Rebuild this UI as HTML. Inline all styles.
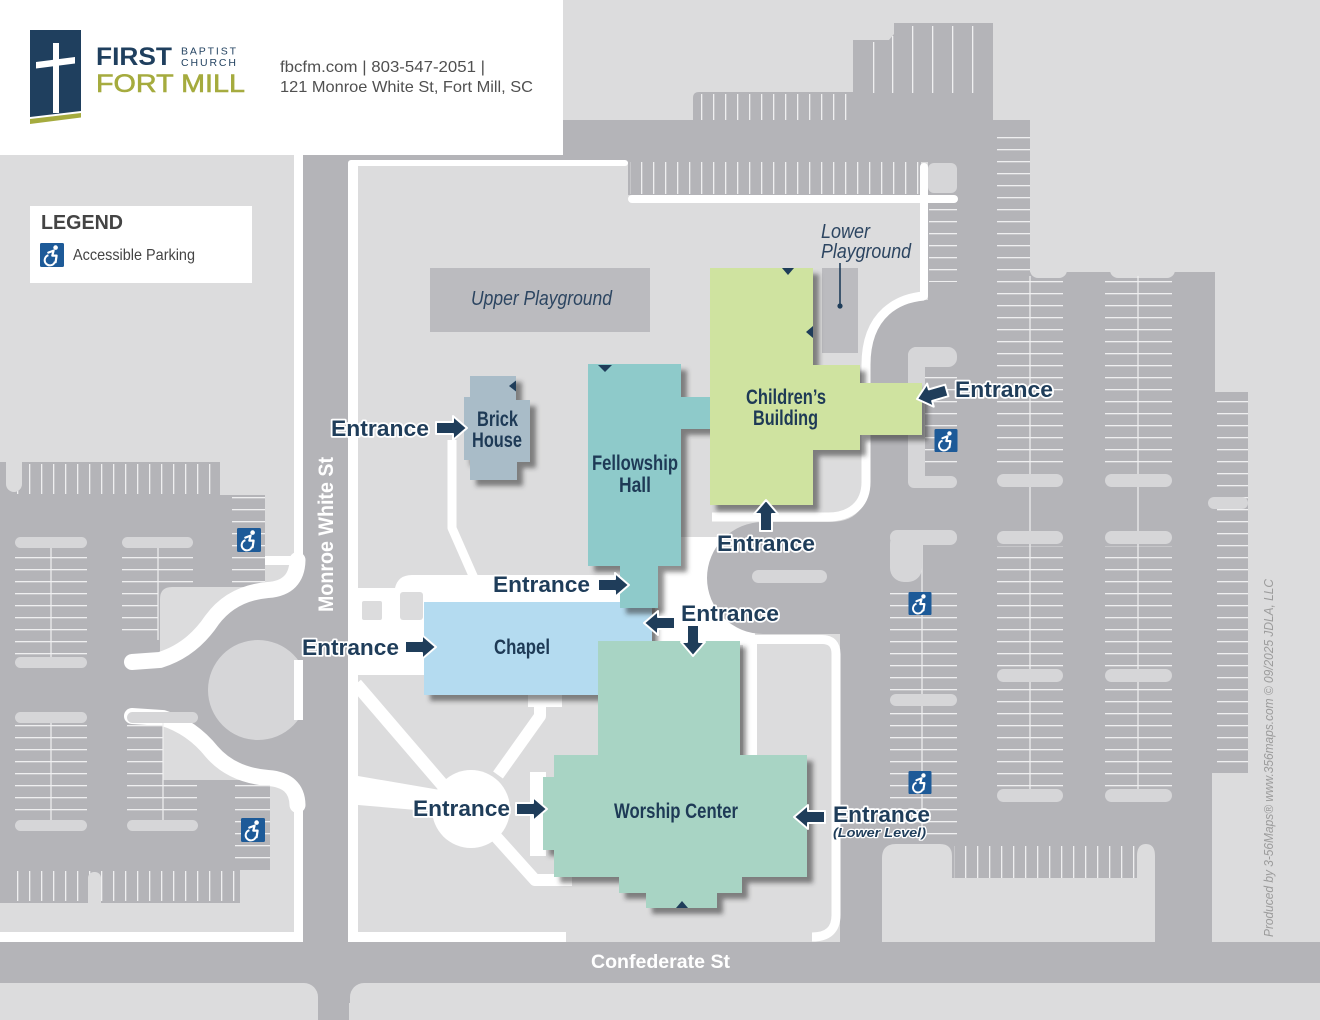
<!DOCTYPE html>
<html><head><meta charset="utf-8">
<style>
html,body{margin:0;padding:0;background:#dcdcdd;}
svg{display:block}
.ent{font-family:"Liberation Sans",Arial,sans-serif;font-weight:bold;font-size:22.5px;fill:#1f3d5a;stroke:#ffffff;stroke-width:3.5px;paint-order:stroke;stroke-linejoin:round}
.bl{font-family:"Liberation Sans",Arial,sans-serif;font-weight:bold;font-size:21px;fill:#1e3a56}
.it{font-family:"Liberation Sans",Arial,sans-serif;font-style:italic;font-size:20px;fill:#2c4561}
.rd{font-family:"Liberation Sans",Arial,sans-serif;font-weight:bold;fill:#ffffff}
</style></head><body>
<svg width="1320" height="1020" viewBox="0 0 1320 1020" xmlns="http://www.w3.org/2000/svg">
<defs>
<pattern id="vs" width="12" height="20" patternUnits="userSpaceOnUse"><rect x="5" y="0" width="1.3" height="20" fill="#efeff0"/></pattern>
<pattern id="hs" width="20" height="12" patternUnits="userSpaceOnUse"><rect x="0" y="5" width="20" height="1.3" fill="#efeff0"/></pattern>
<filter id="sh" x="-10%" y="-10%" width="130%" height="130%"><feDropShadow dx="6" dy="6" stdDeviation="2.5" flood-color="#333" flood-opacity="0.55"/></filter>
<symbol id="ada" viewBox="0 0 24 24">
<rect width="24" height="24" rx="1.5" fill="#1d5a98"/>
<circle cx="15.6" cy="4.6" r="2.3" fill="#fff"/>
<path d="M8.3,9.6 L13.6,7.6 L12.3,12.6 L16.6,12.6 L15.6,19.2" fill="none" stroke="#fff" stroke-width="2.2" stroke-linejoin="round" stroke-linecap="round"/>
<path d="M8.4,12.2 A5.2,5.2 0 1 0 14.9,18.6" fill="none" stroke="#fff" stroke-width="2"/>
</symbol>
<path id="arr" d="M-31,-6 H-14 V-12 L0,0 L-14,12 V6 H-31 Z"/>
</defs>

<!-- base lawn -->
<rect x="0" y="0" width="1320" height="1020" fill="#dcdcdd"/>

<!-- white underlay near loop -->
<rect x="655" y="537" width="100" height="108" fill="#ffffff"/>

<!-- asphalt -->
<g fill="#b4b4b8">
<rect x="303" y="150" width="46" height="870"/>
<rect x="0" y="942" width="1320" height="41"/>
<rect x="349" y="983" width="20" height="20"/>
<rect x="303" y="150" width="260" height="13"/>
<rect x="563" y="120" width="467" height="42"/>
<path d="M693,122 V98 Q693,92 699,92 H853 V40 H889 L894,34 V23 H993 V122 Z"/>
<rect x="628" y="160" width="293" height="35"/>
<rect x="928" y="120" width="102" height="160"/>
<path d="M928,272 H1215 V392 H1248 V773 H1212 V942 H840 V634 H763 A56,56 0 0 1 763,522 H830 Q866,522 866,486 V365 Q866,300 928,300 Z"/>
<path d="M0,462 H220 V495 H265 V587 H172 Q160,587 160,599 V662 Q192,650 212,620 Q232,593 268,590 Q297,588 297,565 L303,565 V800 L297,800 Q297,780 268,778 Q232,775 212,752 Q192,727 163,718 V780 H270 V870 H240 V903 H0 Z"/>
</g>

<!-- bottom lawn blocks below Confederate -->
<rect x="-20" y="983" width="338" height="60" rx="14" fill="#dcdcdd"/>
<rect x="350" y="983" width="990" height="60" rx="14" fill="#dcdcdd"/>

<!-- left lot round island -->
<circle cx="258" cy="690" r="50" fill="#d6d6d8"/>
<rect x="303" y="630" width="46" height="120" fill="#b4b4b8"/>
<rect x="294" y="660" width="9" height="60" fill="#ffffff"/>

<!-- left side white sidewalks -->
<g fill="#ffffff">
<rect x="294" y="150" width="9" height="420"/>
<rect x="294" y="795" width="9" height="147"/>
<rect x="0" y="932" width="303" height="10"/>
<rect x="265" y="556" width="32" height="9"/>
</g>
<g fill="none" stroke="#ffffff" stroke-width="16" stroke-linecap="round">
<path d="M297.5,560 Q297,588 268,590 Q232,593 212,620 Q192,650 160,660 L132,662"/>
<path d="M297.5,805 Q297,780 268,778 Q232,775 212,752 Q192,727 163,718 L132,716"/>
</g>

<!-- left lot markings -->
<rect x="8" y="464" width="210" height="30" fill="url(#vs)"/>
<rect x="6" y="452" width="16" height="40" rx="8" fill="#dcdcdd"/>
<rect x="232" y="497" width="33" height="89" fill="url(#hs)"/>
<rect x="15" y="550" width="72" height="106" fill="url(#hs)"/>
<rect x="122" y="550" width="71" height="38" fill="url(#hs)"/>
<rect x="122" y="588" width="36" height="52" fill="url(#hs)"/>
<rect x="15" y="724" width="72" height="95" fill="url(#hs)"/>
<rect x="127" y="724" width="36" height="56" fill="url(#hs)"/>
<rect x="127" y="780" width="70" height="39" fill="url(#hs)"/>
<rect x="235" y="785" width="35" height="84" fill="url(#hs)"/>
<rect x="8" y="871" width="230" height="30" fill="url(#vs)"/>
<rect x="88" y="872" width="13" height="40" rx="6" fill="#dcdcdd"/>
<g fill="#efeff0">
<rect x="50.4" y="545" width="1.2" height="115"/>
<rect x="157.4" y="545" width="1.2" height="95"/>
<rect x="50.4" y="720" width="1.2" height="105"/>
<rect x="162.4" y="720" width="1.2" height="105"/>
</g>
<g fill="#d6d6d8">
<rect x="15" y="537" width="72" height="11" rx="5.5"/>
<rect x="122" y="537" width="71" height="11" rx="5.5"/>
<rect x="15" y="657" width="72" height="11" rx="5.5"/>
<rect x="15" y="712" width="72" height="11" rx="5.5"/>
<rect x="127" y="712" width="71" height="11" rx="5.5"/>
<rect x="15" y="820" width="72" height="11" rx="5.5"/>
<rect x="127" y="820" width="71" height="11" rx="5.5"/>
</g>

<!-- top lots markings -->
<g fill="#efeff0">
<rect x="873" y="42" width="1.3" height="51"/>
<rect x="892" y="36" width="1.3" height="57"/>
<rect x="912" y="26" width="1.3" height="67"/>
<rect x="932" y="26" width="1.3" height="67"/>
<rect x="952" y="26" width="1.3" height="67"/>
<rect x="972" y="26" width="1.3" height="67"/>
</g>
<rect x="697" y="94" width="155" height="26" fill="url(#vs)"/>
<rect x="630" y="162" width="290" height="32" fill="url(#vs)"/>
<rect x="929" y="205" width="28" height="77" fill="url(#hs)"/>
<rect x="997" y="130" width="33" height="142" fill="url(#hs)"/>
<rect x="928" y="163" width="29" height="30" rx="6" fill="#d6d6d8"/>

<!-- campus white sidewalks -->
<g fill="#ffffff">
<rect x="348" y="163" width="10" height="779"/>
<rect x="348" y="160" width="280" height="6" rx="3"/>
<rect x="348" y="932" width="218" height="10"/>
<rect x="628" y="195" width="330" height="8" rx="4"/>
<rect x="920" y="163" width="8" height="137" rx="4"/>
<rect x="743" y="640" width="14" height="115"/>
<path d="M348,588 H395 Q398,575 412,575 H622 V604 H424 V675 H348 Z"/>
<circle cx="471" cy="809" r="39"/>
<polygon points="358,776 440,790 440,812 358,805"/>
<rect x="528" y="695" width="34" height="12"/>
<rect x="530" y="772" width="16" height="84"/>
</g>
<rect x="362" y="601" width="20" height="19" rx="2" fill="#dcdcdd"/>
<rect x="400" y="592" width="23" height="28" rx="3" fill="#dcdcdd"/>
<g fill="none" stroke="#ffffff" stroke-linejoin="round">
<path d="M924,296 C900,298 866,312 866,365 V482 C866,505 850,517 828,517 H712" stroke-width="9"/>
<path d="M660,639.5 H822 Q836,639.5 836,654 V915 Q836,937 812,937" stroke-width="9"/>
<polyline points="452,440 452,528 474,578" stroke-width="9"/>
<line x1="356" y1="684" x2="447" y2="790" stroke-width="13"/>
<polyline points="498,775 540,716 540,700" stroke-width="12"/>
<polyline points="490,830 535,880 572,880" stroke-width="12"/>
</g>

<!-- big lot markings -->
<g fill="#dcdcdd">
<rect x="1030" y="262" width="37" height="16" rx="8"/>
<rect x="1110" y="262" width="65" height="16" rx="8"/>
</g>
<rect x="997" y="280" width="66" height="192" fill="url(#hs)"/>
<rect x="997" y="546" width="66" height="121" fill="url(#hs)"/>
<rect x="997" y="684" width="66" height="104" fill="url(#hs)"/>
<rect x="1105" y="280" width="67" height="192" fill="url(#hs)"/>
<rect x="1105" y="546" width="67" height="121" fill="url(#hs)"/>
<rect x="1105" y="684" width="67" height="104" fill="url(#hs)"/>
<rect x="1217" y="396" width="31" height="374" fill="url(#hs)"/>
<rect x="925" y="369" width="32" height="104" fill="url(#hs)"/>
<rect x="890" y="586" width="67" height="106" fill="url(#hs)"/>
<rect x="890" y="708" width="67" height="132" fill="url(#hs)"/>
<rect x="954" y="846" width="183" height="32" fill="url(#vs)"/>
<g fill="#efeff0">
<rect x="1029.4" y="276" width="1.2" height="515"/>
<rect x="1137.4" y="276" width="1.2" height="515"/>
<rect x="921.4" y="545" width="1.2" height="295"/>
</g>
<g fill="#d6d6d8">
<rect x="997" y="474" width="66" height="13" rx="6.5"/>
<rect x="997" y="531" width="66" height="13" rx="6.5"/>
<rect x="997" y="669" width="66" height="13" rx="6.5"/>
<rect x="997" y="789" width="66" height="13" rx="6.5"/>
<rect x="1105" y="474" width="67" height="13" rx="6.5"/>
<rect x="1105" y="531" width="67" height="13" rx="6.5"/>
<rect x="1105" y="669" width="67" height="13" rx="6.5"/>
<rect x="1105" y="789" width="67" height="13" rx="6.5"/>
<rect x="1208" y="497" width="40" height="12" rx="6"/>
<rect x="908" y="347" width="49" height="20" rx="9"/>
<rect x="908" y="347" width="17" height="141" rx="8"/>
<rect x="908" y="476" width="49" height="12" rx="6"/>
<rect x="890" y="530" width="67" height="15" rx="7"/>
<rect x="890" y="530" width="32" height="52" rx="14"/>
<rect x="890" y="694" width="67" height="12" rx="6"/>
<rect x="752" y="570" width="75" height="13" rx="6.5"/>
</g>
<path d="M882,942 V858 Q882,844 896,844 H940 Q952,844 952,856 V878 H1137 V856 Q1137,844 1146,844 Q1155,844 1155,856 V942 Z" fill="#dcdcdd"/>
<rect x="1212" y="773" width="130" height="169" rx="12" fill="#dcdcdd"/>

<!-- playgrounds -->
<rect x="430" y="268" width="220" height="64" fill="#bbbbbf"/>
<rect x="822" y="268" width="36" height="85" fill="#bbbbbf"/>

<!-- buildings -->
<g filter="url(#sh)">
<rect x="424" y="602" width="228" height="93" fill="#b4dbf0"/>
</g>
<g filter="url(#sh)">
<path d="M598,641 H740 V755 H807 V877 H742 V893 H717 V908 H646 V893 H619 V877 H554 V850 H543 V777 H554 V755 H598 Z" fill="#a8d4c4"/>
</g>
<g filter="url(#sh)">
<path d="M470,376 H516 V400 H530 V462 H517 V480 H470 V460 H464 V397 H470 Z" fill="#a9bcc8"/>
</g>
<g filter="url(#sh)" fill="#8ecaca">
<path d="M588,364 H681 V566 H658 V608 H620 V566 H588 Z"/>
<rect x="680" y="397" width="32" height="32"/>
</g>
<g filter="url(#sh)">
<path d="M710,268 H813 V365 H860 V383 H922 V435 H860 V450 H813 V505 H710 Z" fill="#cfe3a0"/>
</g>
<g fill="#1f3d5a">
<path d="M509,386 L516,380.5 L516,391.5 Z"/>
<path d="M598,365 H612 L605,372 Z"/>
<path d="M782,268 H794 L788,275 Z"/>
<path d="M806,332 L813,326 L813,338 Z"/>
<path d="M676,908 H688 L682,901 Z"/>
</g>

<!-- building labels -->
<text class="bl" x="477" y="426" textLength="41" lengthAdjust="spacingAndGlyphs">Brick</text>
<text class="bl" x="472" y="447" textLength="50" lengthAdjust="spacingAndGlyphs">House</text>
<text class="bl" x="592" y="470" textLength="86" lengthAdjust="spacingAndGlyphs">Fellowship</text>
<text class="bl" x="619" y="492" textLength="32" lengthAdjust="spacingAndGlyphs">Hall</text>
<text class="bl" x="746" y="404" textLength="80" lengthAdjust="spacingAndGlyphs">Children’s</text>
<text class="bl" x="753" y="425" textLength="65" lengthAdjust="spacingAndGlyphs">Building</text>
<text class="bl" x="494" y="654" textLength="56" lengthAdjust="spacingAndGlyphs">Chapel</text>
<text class="bl" x="614" y="818" textLength="124" lengthAdjust="spacingAndGlyphs">Worship Center</text>

<text class="it" x="471" y="305" textLength="141" lengthAdjust="spacingAndGlyphs">Upper Playground</text>
<text class="it" x="821" y="238" textLength="49" lengthAdjust="spacingAndGlyphs">Lower</text>
<text class="it" x="821" y="258" textLength="90" lengthAdjust="spacingAndGlyphs">Playground</text>
<line x1="840" y1="263" x2="840" y2="305" stroke="#1f3d5a" stroke-width="1.6"/>
<circle cx="840" cy="306" r="2.6" fill="#1f3d5a"/>

<!-- road labels -->
<text class="rd" font-size="21" transform="translate(333,612) rotate(-90)" textLength="155" lengthAdjust="spacingAndGlyphs">Monroe White St</text>
<text class="rd" font-size="19" x="591" y="968" textLength="139" lengthAdjust="spacingAndGlyphs">Confederate St</text>
<text font-family="Liberation Sans, Arial, sans-serif" font-style="italic" font-size="12.5" fill="#9c9c9c" transform="translate(1273,937) rotate(-90)" textLength="358" lengthAdjust="spacingAndGlyphs">Produced by 3-56Maps®   www.356maps.com   © 09/2025 JDLA, LLC</text>

<!-- ADA icons -->
<use href="#ada" x="237" y="528" width="24" height="24"/>
<use href="#ada" x="241" y="818" width="24" height="24"/>
<use href="#ada" x="934" y="429" width="24" height="23"/>
<use href="#ada" x="908" y="592" width="24" height="23"/>
<use href="#ada" x="908" y="771" width="24" height="23"/>

<!-- entrance arrows -->
<g fill="#1f3d5a" stroke="#ffffff" stroke-width="2" stroke-linejoin="round">
<use href="#arr" transform="translate(467,428)"/>
<use href="#arr" transform="translate(917,399) rotate(164)"/>
<use href="#arr" transform="translate(766,500) rotate(-90)"/>
<use href="#arr" transform="translate(629,585)"/>
<use href="#arr" transform="translate(644,623) rotate(180)"/>
<use href="#arr" transform="translate(693,656) rotate(90)"/>
<use href="#arr" transform="translate(436,647)"/>
<use href="#arr" transform="translate(547,809)"/>
<use href="#arr" transform="translate(794,817) rotate(180)"/>
</g>

<!-- entrance labels -->
<text class="ent" x="331" y="436" textLength="98" lengthAdjust="spacingAndGlyphs">Entrance</text>
<text class="ent" x="955" y="397" textLength="98" lengthAdjust="spacingAndGlyphs">Entrance</text>
<text class="ent" x="717" y="551" textLength="98" lengthAdjust="spacingAndGlyphs">Entrance</text>
<text class="ent" x="493" y="592" textLength="97" lengthAdjust="spacingAndGlyphs">Entrance</text>
<text class="ent" x="681" y="621" textLength="98" lengthAdjust="spacingAndGlyphs">Entrance</text>
<text class="ent" x="302" y="655" textLength="97" lengthAdjust="spacingAndGlyphs">Entrance</text>
<text class="ent" x="413" y="816" textLength="97" lengthAdjust="spacingAndGlyphs">Entrance</text>
<text class="ent" x="833" y="822" textLength="97" lengthAdjust="spacingAndGlyphs">Entrance</text>
<text class="ent" style="font-size:13px;font-style:italic;stroke-width:2.5px" x="833" y="837" textLength="93" lengthAdjust="spacingAndGlyphs">(Lower Level)</text>

<!-- header -->
<rect x="0" y="0" width="563" height="155" fill="#ffffff"/>
<polygon points="30,30 81,30 81,111 30,117" fill="#1f3f5e"/>
<polygon points="30,119 81,113 81,117.5 30,124" fill="#a5ab3e"/>
<rect x="53" y="43" width="6" height="70" fill="#ffffff"/>
<polygon points="36,62 75,57 75,63.5 36,68.5" fill="#ffffff"/>
<text x="96" y="65" font-family="Liberation Sans, Arial, sans-serif" font-weight="bold" font-size="25" fill="#1f3f5e" textLength="76" lengthAdjust="spacingAndGlyphs">FIRST</text>
<text x="181" y="54.5" font-family="Liberation Sans, Arial, sans-serif" font-size="10.5" fill="#1f3f5e" textLength="55" lengthAdjust="spacing">BAPTIST</text>
<text x="181" y="66" font-family="Liberation Sans, Arial, sans-serif" font-size="10.5" fill="#1f3f5e" textLength="55" lengthAdjust="spacing">CHURCH</text>
<text x="96" y="92" font-family="Liberation Sans, Arial, sans-serif" font-size="25" fill="#a5ab3e" stroke="#a5ab3e" stroke-width="0.6" textLength="149" lengthAdjust="spacingAndGlyphs">FORT MILL</text>
<text x="280" y="72" font-family="Liberation Sans, Arial, sans-serif" font-size="16" fill="#505050" textLength="205" lengthAdjust="spacingAndGlyphs">fbcfm.com | 803-547-2051 |</text>
<text x="280" y="92" font-family="Liberation Sans, Arial, sans-serif" font-size="16" fill="#505050" textLength="253" lengthAdjust="spacingAndGlyphs">121 Monroe White St, Fort Mill, SC</text>

<!-- legend -->
<rect x="30" y="206" width="222" height="77" fill="#ffffff"/>
<text x="41" y="229" font-family="Liberation Sans, Arial, sans-serif" font-weight="bold" font-size="20" fill="#444444" textLength="82" lengthAdjust="spacingAndGlyphs">LEGEND</text>
<use href="#ada" x="40" y="243" width="24" height="24"/>
<text x="73" y="260" font-family="Liberation Sans, Arial, sans-serif" font-size="16" fill="#444444" textLength="122" lengthAdjust="spacingAndGlyphs">Accessible Parking</text>
</svg>
</body></html>
